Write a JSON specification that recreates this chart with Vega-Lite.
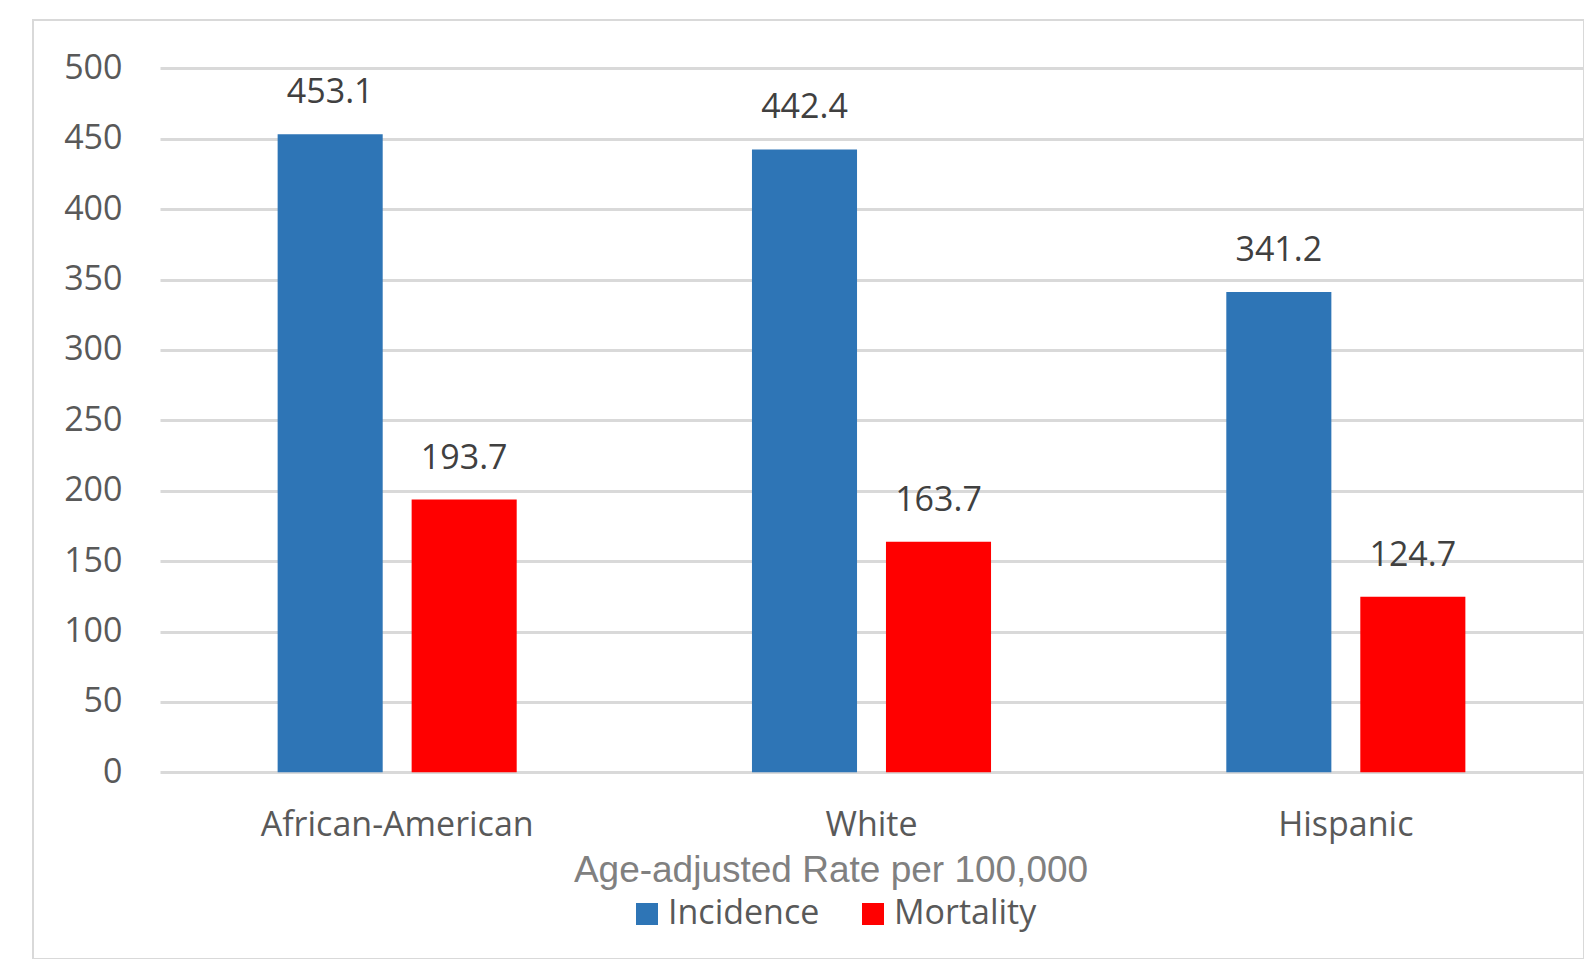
{
  "$schema": "https://vega.github.io/schema/vega-lite/v6.json",
  "width": 1551,
  "height": 939,
  "autosize": {"type": "none"},
  "padding": {"left": 33, "top": 20, "right": 0, "bottom": 0},
  "background": "white",
  "config": {
    "view": {"stroke": "#d9d9d9", "strokeWidth": 2},
    "font": "Open Sans"
  },
  "data": {
    "values": [
      {"group": "African-American", "measure": "Incidence", "rate": 453.1},
      {"group": "African-American", "measure": "Mortality", "rate": 193.7},
      {"group": "White", "measure": "Incidence", "rate": 442.4},
      {"group": "White", "measure": "Mortality", "rate": 163.7},
      {"group": "Hispanic", "measure": "Incidence", "rate": 341.2},
      {"group": "Hispanic", "measure": "Mortality", "rate": 124.7}
    ]
  },
  "encoding": {
    "x": {
      "field": "group",
      "type": "nominal",
      "sort": ["African-American", "White", "Hispanic"],
      "scale": {"range": [127, 1550], "paddingInner": 0.496, "paddingOuter": 0.248},
      "axis": {
        "title": "Age-adjusted Rate per 100,000",
        "offset": -186.7,
        "domain": false,
        "ticks": false,
        "grid": false,
        "labelAngle": 0,
        "labelLimit": 0,
        "labelFontSize": 34,
        "labelColor": "#595959",
        "labelBaseline": "alphabetic",
        "labelPadding": 63,
        "titleFont": "Liberation Sans",
        "titleFontSize": 37,
        "titleFontWeight": "normal",
        "titleColor": "#808080",
        "titleX": 797.5,
        "titleY": 109,
        "titleAlign": "center",
        "titleBaseline": "alphabetic",
        "titleLimit": 0
      }
    },
    "xOffset": {
      "field": "measure",
      "type": "nominal",
      "sort": ["Incidence", "Mortality"],
      "scale": {"paddingInner": 0.216, "paddingOuter": 0}
    },
    "y": {
      "field": "rate",
      "type": "quantitative",
      "scale": {"domain": [0, 500], "range": [752.3, 48.3], "nice": false},
      "axis": {
        "title": null,
        "values": [0, 50, 100, 150, 200, 250, 300, 350, 400, 450, 500],
        "offset": -127,
        "domain": false,
        "ticks": false,
        "tickSize": 0,
        "labelPadding": 38,
        "labelFontSize": 34,
        "labelColor": "#595959",
        "grid": true,
        "gridColor": "#d9d9d9",
        "gridWidth": 3
      }
    }
  },
  "layer": [
    {
      "mark": {"type": "bar"},
      "encoding": {
        "color": {
          "field": "measure",
          "type": "nominal",
          "scale": {"domain": ["Incidence", "Mortality"], "range": ["#2E75B6", "#FF0000"]},
          "legend": {
            "title": null,
            "orient": "none",
            "direction": "horizontal",
            "legendX": 597,
            "legendY": 877,
            "symbolType": "square",
            "symbolSize": 484,
            "symbolStrokeWidth": 0,
            "symbolOpacity": 1,
            "labelFontSize": 34,
            "labelColor": "#595959",
            "labelOffset": 4,
            "columnPadding": 36,
            "labelLimit": 0
          }
        }
      }
    },
    {
      "mark": {"type": "text", "dy": -31, "baseline": "alphabetic", "fontSize": 34, "color": "#404040"},
      "encoding": {
        "text": {"field": "rate", "type": "quantitative", "format": ".1f"}
      }
    }
  ]
}
